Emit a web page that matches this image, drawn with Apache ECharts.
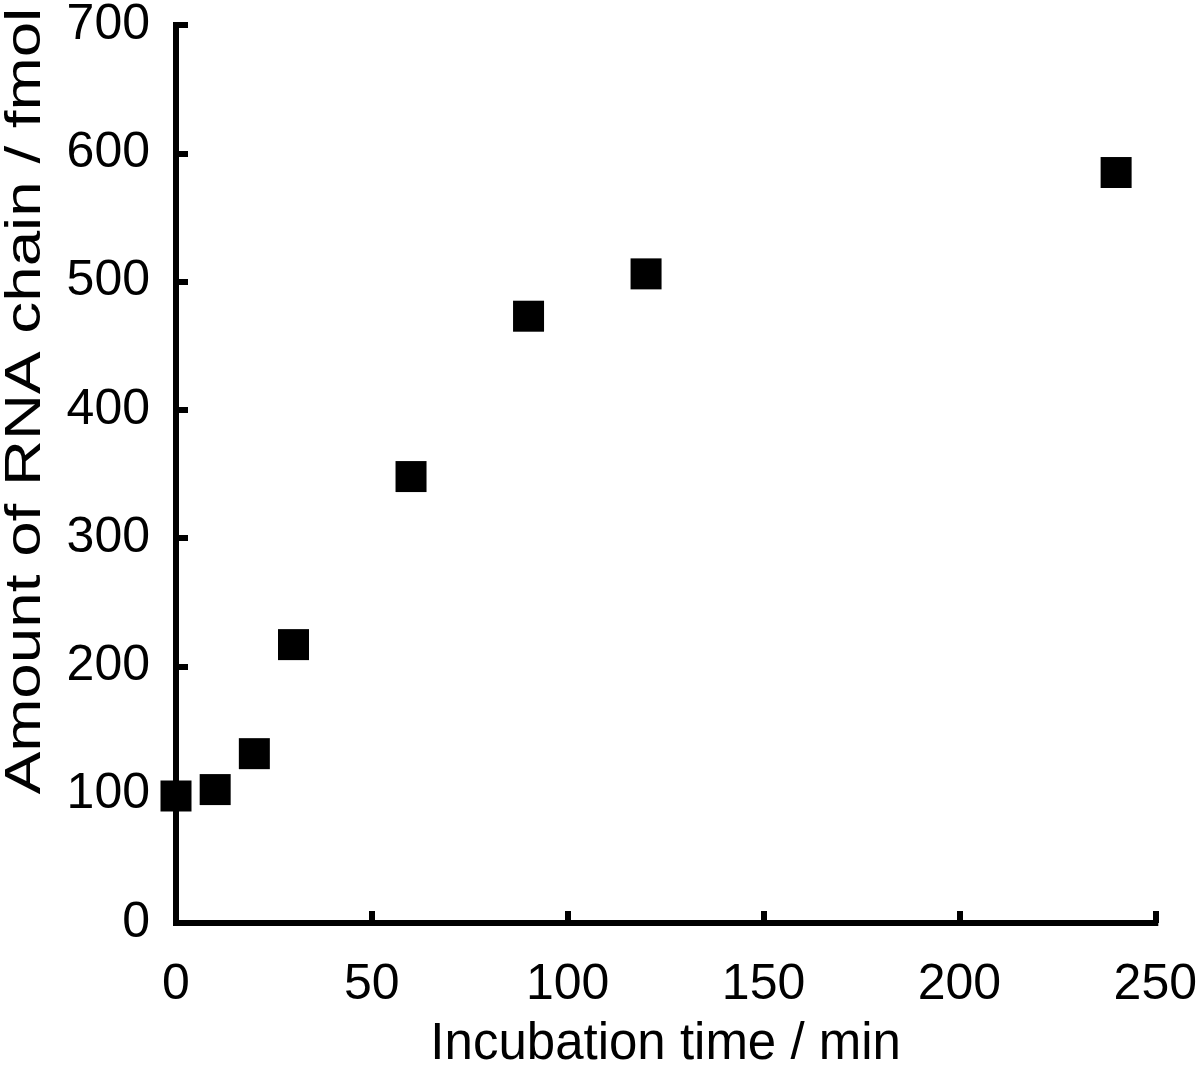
<!DOCTYPE html>
<html>
<head>
<meta charset="utf-8">
<script src="https://cdn.jsdelivr.net/npm/echarts@6/dist/echarts.min.js"></script>
<style>
  html, body { margin: 0; padding: 0; background: #fff; }
  #chart { width: 1200px; height: 1075px; }
</style>
</head>
<body>
<div id="chart"></div>
<script>
// Data
const incubationTime = [0, 10, 20, 30, 60, 90, 120, 240];
const rnaAmount = [99, 104, 132, 217, 348, 473, 506, 585];
const xTicks = { min: 0, max: 250, interval: 50 };
const yTicks = { min: 0, max: 700, interval: 100 };
const xAxisTitle = 'Incubation time / min';
const yAxisTitle = 'Amount of RNA chain / fmol';

const points = incubationTime.map((t, i) => [t, rnaAmount[i]]);
const FONT = '"Liberation Sans", Arial, Helvetica, sans-serif';

const chart = echarts.init(document.getElementById('chart'), null, { renderer: 'canvas' });
chart.setOption({
  backgroundColor: '#ffffff',
  animation: false,
  grid: { left: 176, right: 43, top: 24, bottom: 152, containLabel: false },
  xAxis: {
    type: 'value',
    min: xTicks.min, max: xTicks.max, interval: xTicks.interval,
    name: xAxisTitle,
    nameLocation: 'middle',
    nameGap: 96,
    nameTextStyle: { fontFamily: FONT, fontSize: 51, color: '#000' },
    axisLine: { show: true, onZero: false, lineStyle: { color: '#000', width: 6, cap: 'square' } },
    axisTick: { show: true, inside: true, length: 12, lineStyle: { color: '#000', width: 6 } },
    axisLabel: { fontFamily: FONT, fontSize: 50, color: '#000', margin: 37 },
    splitLine: { show: false }
  },
  yAxis: {
    type: 'value',
    min: yTicks.min, max: yTicks.max, interval: yTicks.interval,
    axisLine: { show: true, onZero: false, lineStyle: { color: '#000', width: 6, cap: 'square' } },
    axisTick: { show: true, inside: true, length: 12, lineStyle: { color: '#000', width: 6 } },
    axisLabel: { fontFamily: FONT, fontSize: 50, color: '#000', margin: 26 },
    splitLine: { show: false }
  },
  graphic: [{
    type: 'text',
    x: 26,
    y: 401,
    rotation: Math.PI / 2,
    scaleX: 1.275,
    style: {
      text: yAxisTitle,
      font: '50px ' + FONT,
      fill: '#000',
      textAlign: 'center',
      textVerticalAlign: 'middle'
    }
  }],
  series: [{
    type: 'scatter',
    data: points,
    symbol: 'rect',
    symbolSize: 31,
    clip: false,
    itemStyle: { color: '#000', opacity: 1 },
    z: 5
  }]
});
</script>
</body>
</html>
